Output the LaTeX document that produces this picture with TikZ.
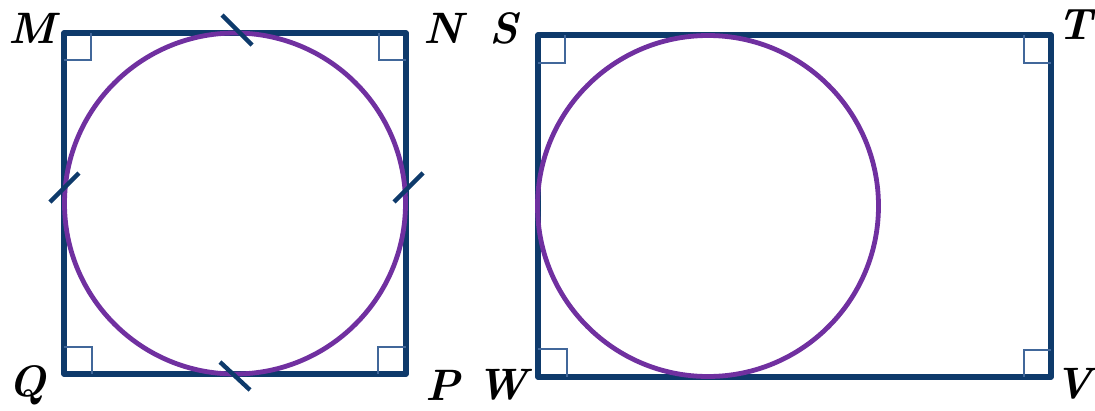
\documentclass[tikz,border=0pt]{standalone}
\usepackage{xcolor}
\definecolor{navy}{HTML}{0E3A6B}
\definecolor{markblue}{HTML}{41679A}
\definecolor{circpurple}{HTML}{7030A0}
\begin{document}
\begin{tikzpicture}[x=1pt,y=-1pt,
  edge/.style={draw=navy,line width=5.2pt,line join=round},
  ring/.style={draw=circpurple,line width=4.8pt},
  rightmark/.style={draw=markblue,line width=2.2pt},
  tickmark/.style={draw=navy,line width=4.4pt},
  lbl/.style={font=\fontsize{44}{44}\selectfont\bfseries\itshape,inner sep=0pt,anchor=center}]
\useasboundingbox (0,0) rectangle (1095,410);
% square MNPQ
\coordinate (M) at (64,33);
\coordinate (N) at (406,33);
\coordinate (P) at (406,374);
\coordinate (Q) at (64,374);
\draw[edge] (M) -- (N) -- (P) -- (Q) -- cycle;
\draw[ring] (235,203.5) circle (170.5);
% right angle marks square
\draw[rightmark] (64,60) -- (91,60) -- (91,33);
\draw[rightmark] (379,33) -- (379,60) -- (406,60);
\draw[rightmark] (64,347) -- (92,347) -- (92,374);
\draw[rightmark] (378,374) -- (378,347) -- (406,347);
% ticks
\coordinate (t1a) at (222,15); \coordinate (t1b) at (252,45);
\coordinate (t2a) at (220,362); \coordinate (t2b) at (250,390);
\coordinate (t3a) at (50,202); \coordinate (t3b) at (79,173);
\coordinate (t4a) at (394,202); \coordinate (t4b) at (423,173);
\draw[tickmark] (t1a) -- (t1b);
\draw[tickmark] (t2a) -- (t2b);
\draw[tickmark] (t3a) -- (t3b);
\draw[tickmark] (t4a) -- (t4b);
% rectangle STVW
\coordinate (S) at (538,35);
\coordinate (T) at (1051,35);
\coordinate (V) at (1051,377);
\coordinate (W) at (538,377);
\draw[edge] (S) -- (T) -- (V) -- (W) -- cycle;
\draw[ring] (708,206) circle (170.5);
\draw[rightmark] (538,63) -- (565,63) -- (565,35);
\draw[rightmark] (1024,35) -- (1024,63) -- (1051,63);
\draw[rightmark] (538,349) -- (567,349) -- (567,377);
\draw[rightmark] (1024,377) -- (1024,350) -- (1051,350);
% labels
\node[lbl] (lM) at (32,28) {M};
\node[lbl] (lN) at (443,28) {N};
\node[lbl] (lP) at (443,385) {P};
\node[lbl] (lQ) at (27,385) {Q};
\node[lbl] (lS) at (504,28) {S};
\node[lbl] (lT) at (1075,25) {T};
\node[lbl] (lV) at (1074,384) {V};
\node[lbl] (lW) at (502,385) {W};
\end{tikzpicture}
\end{document}
